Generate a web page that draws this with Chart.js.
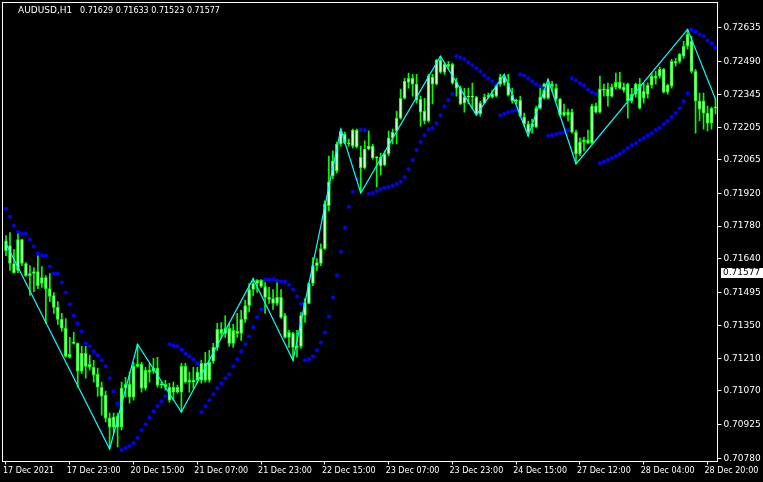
<!DOCTYPE html>
<html lang="en">
<head>
  <meta charset="UTF-8">
  <title>AUDUSD,H1</title>
  <style>
    html, body {
      margin: 0;
      padding: 0;
      background: #000;
    }
    #chart {
      display: block;
    }
  </style>
</head>
<body>

<canvas id="chart" width="763" height="482"></canvas>

<script src="https://cdn.jsdelivr.net/npm/chart.js"></script>

<script>
  // H1 bars, oldest first
  var opens = [
    0.71717, 0.71696, 0.71619, 0.71589, 0.71722, 0.71619, 0.71576, 0.71576, 0.71584, 0.71533,
    0.71558, 0.71511, 0.71481, 0.71430, 0.71378, 0.71340, 0.71215, 0.71275, 0.71275, 0.71155,
    0.71232, 0.71185, 0.71172, 0.71142, 0.71086, 0.71052, 0.70953, 0.70914, 0.70962, 0.70914,
    0.71082, 0.71099, 0.71043, 0.71176, 0.71185, 0.71082, 0.71159, 0.71155, 0.71168, 0.71095,
    0.71099, 0.71086, 0.71065, 0.71086, 0.71065, 0.71176, 0.71108, 0.71116, 0.71116, 0.71116,
    0.71189, 0.71116, 0.71198, 0.71258, 0.71335, 0.71318, 0.71340, 0.71275, 0.71327, 0.71318,
    0.71378, 0.71438, 0.71507, 0.71533, 0.71546, 0.71520, 0.71473, 0.71447, 0.71473, 0.71473,
    0.71395, 0.71301, 0.71318, 0.71258, 0.71262, 0.71395, 0.71447, 0.71533, 0.71610, 0.71619,
    0.71683, 0.71868, 0.71996, 0.72018, 0.72134, 0.72177, 0.72138, 0.72125, 0.72194, 0.72078,
    0.72031, 0.72112, 0.72125, 0.72074, 0.72078, 0.72044, 0.72091, 0.72160, 0.72190, 0.72245,
    0.72331, 0.72400, 0.72417, 0.72392, 0.72327, 0.72276, 0.72233, 0.72422, 0.72392, 0.72495,
    0.72443, 0.72477, 0.72477, 0.72400, 0.72374, 0.72310, 0.72336, 0.72340, 0.72336, 0.72263,
    0.72310, 0.72336, 0.72336, 0.72340, 0.72392, 0.72422, 0.72396, 0.72344, 0.72319, 0.72323,
    0.72250, 0.72220, 0.72207, 0.72207, 0.72288, 0.72331, 0.72392, 0.72383, 0.72374, 0.72327,
    0.72258, 0.72271, 0.72271, 0.72185, 0.72091, 0.72142, 0.72151, 0.72138, 0.72297, 0.72271,
    0.72370, 0.72370, 0.72340, 0.72379, 0.72400, 0.72379, 0.72319, 0.72349, 0.72349, 0.72392,
    0.72331, 0.72349, 0.72387, 0.72426, 0.72426, 0.72456, 0.72357, 0.72383, 0.72490, 0.72490,
    0.72512, 0.72555, 0.72576, 0.72447, 0.72319, 0.72319, 0.72267, 0.72224, 0.72288
  ];
  var highs = [
    0.71739, 0.71752, 0.71679, 0.71752, 0.71724, 0.71623, 0.71610, 0.71601, 0.71653, 0.71606,
    0.71567, 0.71576, 0.71494, 0.71455, 0.71404, 0.71382, 0.71301, 0.71322, 0.71277, 0.71262,
    0.71262, 0.71224, 0.71202, 0.71168, 0.71108, 0.71069, 0.70975, 0.70975, 0.70975, 0.71108,
    0.71129, 0.71151, 0.71193, 0.71271, 0.71193, 0.71172, 0.71189, 0.71211, 0.71215, 0.71108,
    0.71116, 0.71103, 0.71108, 0.71095, 0.71189, 0.71189, 0.71151, 0.71172, 0.71172, 0.71202,
    0.71236, 0.71245, 0.71275, 0.71361, 0.71365, 0.71395, 0.71361, 0.71357, 0.71404, 0.71417,
    0.71460, 0.71533, 0.71554, 0.71550, 0.71550, 0.71537, 0.71516, 0.71507, 0.71537, 0.71507,
    0.71404, 0.71331, 0.71322, 0.71331, 0.71408, 0.71468, 0.71537, 0.71644, 0.71640, 0.71704,
    0.71889, 0.72082, 0.72104, 0.72142, 0.72198, 0.72185, 0.72155, 0.72198, 0.72198, 0.72125,
    0.72147, 0.72190, 0.72134, 0.72080, 0.72095, 0.72104, 0.72190, 0.72198, 0.72276, 0.72370,
    0.72417, 0.72439, 0.72434, 0.72434, 0.72340, 0.72331, 0.72434, 0.72434, 0.72499, 0.72512,
    0.72486, 0.72490, 0.72482, 0.72417, 0.72383, 0.72374, 0.72374, 0.72396, 0.72340, 0.72319,
    0.72349, 0.72353, 0.72366, 0.72396, 0.72434, 0.72434, 0.72434, 0.72374, 0.72327, 0.72340,
    0.72267, 0.72233, 0.72241, 0.72297, 0.72374, 0.72396, 0.72413, 0.72404, 0.72392, 0.72331,
    0.72306, 0.72284, 0.72284, 0.72194, 0.72160, 0.72164, 0.72194, 0.72306, 0.72310, 0.72426,
    0.72392, 0.72396, 0.72392, 0.72439, 0.72443, 0.72396, 0.72396, 0.72374, 0.72396, 0.72417,
    0.72396, 0.72396, 0.72439, 0.72447, 0.72465, 0.72460, 0.72392, 0.72499, 0.72503, 0.72525,
    0.72576, 0.72628, 0.72598, 0.72456, 0.72353, 0.72353, 0.72297, 0.72293, 0.72327
  ];
  var lows = [
    0.71653, 0.71589, 0.71576, 0.71580, 0.71610, 0.71563, 0.71481, 0.71498, 0.71511, 0.71516,
    0.71361, 0.71455, 0.71404, 0.71357, 0.71327, 0.71215, 0.71211, 0.71271, 0.71086, 0.71146,
    0.71125, 0.71159, 0.71108, 0.71047, 0.70966, 0.70936, 0.70820, 0.70889, 0.70829, 0.70902,
    0.71043, 0.71017, 0.71030, 0.71172, 0.71065, 0.71073, 0.71108, 0.71146, 0.71086, 0.71082,
    0.71073, 0.71022, 0.71030, 0.71060, 0.70979, 0.71103, 0.71065, 0.71082, 0.71103, 0.71103,
    0.71108, 0.71108, 0.71189, 0.71245, 0.71297, 0.71301, 0.71262, 0.71258, 0.71301, 0.71288,
    0.71365, 0.71412, 0.71481, 0.71494, 0.71516, 0.71404, 0.71447, 0.71421, 0.71438, 0.71382,
    0.71297, 0.71258, 0.71202, 0.71215, 0.71254, 0.71365, 0.71445, 0.71524, 0.71589, 0.71610,
    0.71679, 0.71846, 0.71984, 0.72009, 0.72125, 0.72134, 0.72125, 0.72117, 0.72117, 0.71923,
    0.72026, 0.72108, 0.72069, 0.71949, 0.72001, 0.72039, 0.72082, 0.72134, 0.72134, 0.72241,
    0.72327, 0.72374, 0.72340, 0.72310, 0.72211, 0.72220, 0.72228, 0.72306, 0.72388, 0.72439,
    0.72434, 0.72460, 0.72392, 0.72340, 0.72303, 0.72271, 0.72306, 0.72288, 0.72258, 0.72254,
    0.72306, 0.72331, 0.72331, 0.72336, 0.72383, 0.72387, 0.72340, 0.72310, 0.72306, 0.72250,
    0.72211, 0.72168, 0.72181, 0.72203, 0.72284, 0.72327, 0.72327, 0.72361, 0.72319, 0.72254,
    0.72254, 0.72233, 0.72181, 0.72048, 0.72082, 0.72104, 0.72134, 0.72134, 0.72267, 0.72267,
    0.72340, 0.72297, 0.72336, 0.72370, 0.72370, 0.72357, 0.72245, 0.72310, 0.72336, 0.72284,
    0.72310, 0.72331, 0.72374, 0.72392, 0.72417, 0.72353, 0.72349, 0.72374, 0.72469, 0.72482,
    0.72503, 0.72542, 0.72439, 0.72181, 0.72233, 0.72198, 0.72190, 0.72198, 0.72263
  ];
  var closes = [
    0.71674, 0.71619, 0.71580, 0.71722, 0.71619, 0.71567, 0.71567, 0.71584, 0.71524, 0.71558,
    0.71511, 0.71477, 0.71430, 0.71378, 0.71340, 0.71219, 0.71228, 0.71279, 0.71155, 0.71232,
    0.71176, 0.71172, 0.71138, 0.71086, 0.71047, 0.70953, 0.70914, 0.70957, 0.70914, 0.71082,
    0.71099, 0.71043, 0.71176, 0.71185, 0.71082, 0.71159, 0.71151, 0.71168, 0.71095, 0.71099,
    0.71086, 0.71030, 0.71086, 0.71065, 0.71176, 0.71108, 0.71116, 0.71108, 0.71151, 0.71189,
    0.71116, 0.71193, 0.71258, 0.71335, 0.71318, 0.71340, 0.71275, 0.71331, 0.71318, 0.71378,
    0.71438, 0.71507, 0.71533, 0.71546, 0.71520, 0.71473, 0.71464, 0.71468, 0.71447, 0.71387,
    0.71301, 0.71322, 0.71258, 0.71262, 0.71395, 0.71451, 0.71533, 0.71610, 0.71623, 0.71683,
    0.71876, 0.71971, 0.72061, 0.72134, 0.72190, 0.72138, 0.72134, 0.72194, 0.72121, 0.72031,
    0.72112, 0.72125, 0.72074, 0.72078, 0.72039, 0.72091, 0.72160, 0.72185, 0.72245, 0.72331,
    0.72404, 0.72417, 0.72392, 0.72323, 0.72271, 0.72233, 0.72426, 0.72392, 0.72495, 0.72443,
    0.72477, 0.72469, 0.72396, 0.72374, 0.72306, 0.72336, 0.72340, 0.72336, 0.72263, 0.72310,
    0.72336, 0.72344, 0.72349, 0.72392, 0.72422, 0.72396, 0.72344, 0.72319, 0.72323, 0.72254,
    0.72220, 0.72185, 0.72220, 0.72288, 0.72336, 0.72392, 0.72331, 0.72392, 0.72327, 0.72258,
    0.72271, 0.72258, 0.72185, 0.72091, 0.72142, 0.72151, 0.72138, 0.72297, 0.72271, 0.72370,
    0.72366, 0.72340, 0.72379, 0.72400, 0.72374, 0.72366, 0.72392, 0.72319, 0.72392, 0.72288,
    0.72361, 0.72387, 0.72426, 0.72417, 0.72456, 0.72357, 0.72387, 0.72490, 0.72482, 0.72520,
    0.72555, 0.72606, 0.72447, 0.72319, 0.72284, 0.72267, 0.72224, 0.72288, 0.72293
  ];

  // Parabolic SAR, one dot per bar
  var sar = [
    0.71855, 0.71820, 0.71782, 0.71756, 0.71747, 0.71747, 0.71722, 0.71692, 0.71662, 0.71653,
    0.71653, 0.71606, 0.71576, 0.71576, 0.71537, 0.71494, 0.71443, 0.71395, 0.71361, 0.71327,
    0.71275, 0.71262, 0.71241, 0.71224, 0.71202, 0.71176, 0.71125, 0.71069, 0.71017, 0.70816,
    0.70824, 0.70833, 0.70846, 0.70867, 0.70902, 0.70927, 0.70957, 0.70983, 0.71005, 0.71026,
    0.71047, 0.71271, 0.71266, 0.71262, 0.71249, 0.71232, 0.71219, 0.71206, 0.71189, 0.70979,
    0.71005, 0.71030, 0.71056, 0.71082, 0.71103, 0.71125, 0.71142, 0.71176, 0.71206, 0.71241,
    0.71271, 0.71305, 0.71344, 0.71387, 0.71421, 0.71550, 0.71550, 0.71550, 0.71546, 0.71541,
    0.71541, 0.71528, 0.71507, 0.71477, 0.71447, 0.71202, 0.71206, 0.71219, 0.71245, 0.71279,
    0.71322, 0.71391, 0.71473, 0.71567, 0.71670, 0.71773, 0.71863, 0.71928, 0.71984, 0.72194,
    0.72194, 0.71919, 0.71923, 0.71932, 0.71941, 0.71945, 0.71949, 0.71954, 0.71962, 0.71971,
    0.71992, 0.72026, 0.72065, 0.72108, 0.72142, 0.72172, 0.72198, 0.72203, 0.72224, 0.72258,
    0.72297, 0.72323, 0.72349, 0.72512, 0.72507, 0.72499, 0.72486, 0.72473, 0.72460, 0.72447,
    0.72430, 0.72417, 0.72404, 0.72392, 0.72258, 0.72263, 0.72271, 0.72276, 0.72280, 0.72434,
    0.72430, 0.72417, 0.72404, 0.72392, 0.72383, 0.72374, 0.72168, 0.72172, 0.72177, 0.72181,
    0.72185, 0.72194, 0.72417, 0.72409, 0.72396, 0.72387, 0.72370, 0.72357, 0.72349, 0.72052,
    0.72057, 0.72065, 0.72074, 0.72082, 0.72091, 0.72104, 0.72117, 0.72130, 0.72138, 0.72151,
    0.72160, 0.72172, 0.72181, 0.72194, 0.72203, 0.72220, 0.72233, 0.72250, 0.72267, 0.72288,
    0.72319, 0.72353, 0.72628, 0.72619, 0.72606, 0.72598, 0.72580, 0.72568, 0.72550
  ];

  // ZigZag turning points (bar index, price)
  var zigzagBars = [0, 26, 33, 44, 62, 72, 84, 89, 109, 118, 125, 131, 136, 143, 171, 178];
  var zigzagPrices = [
    0.71705, 0.70820, 0.71271, 0.70979, 0.71554, 0.71202, 0.72198, 0.71923,
    0.72512, 0.72258, 0.72434, 0.72168, 0.72413, 0.72048, 0.72628, 0.72327
  ];

  // time axis labels, one every 16 bars
  var timeLabels = [
    '17 Dec 2021', '17 Dec 23:00', '20 Dec 15:00', '21 Dec 07:00', '21 Dec 23:00', '22 Dec 15:00',
    '23 Dec 07:00', '23 Dec 23:00', '24 Dec 15:00', '27 Dec 12:00', '28 Dec 04:00', '28 Dec 20:00'
  ];
  var timeLabelEvery = 16;

  var priceTicks = [
    0.72635, 0.72490, 0.72345, 0.72205, 0.72065, 0.71920, 0.71780,
    0.71640, 0.71495, 0.71350, 0.71210, 0.71070, 0.70925, 0.70780
  ];

  var symbolName = 'AUDUSD,H1';
  var quote = [0.71629, 0.71633, 0.71523, 0.71577];
  var lastPrice = 0.71577;

  var n = opens.length;
  var categories = [];
  for (var i = 0; i < n; i++) categories.push(i);

  var zigzag = new Array(n).fill(null);
  zigzagBars.forEach(function(b, k) { zigzag[b] = zigzagPrices[k]; });

  var wicks = lows.map(function(l, i) { return [l, highs[i]]; });
  var bodies = opens.map(function(o, i) { return [o, closes[i]]; });

  // black background, white frame, symbol line and last price box
  var terminalLook = {
    id: 'terminalLook',
    beforeDraw: function(chart) {
      var ctx = chart.ctx;
      ctx.save();
      ctx.fillStyle = '#000';
      ctx.fillRect(0, 0, chart.width, chart.height);
      ctx.restore();
    },
    afterDraw: function(chart) {
      var ctx = chart.ctx;
      var area = chart.chartArea;
      ctx.save();
      ctx.strokeStyle = '#fff';
      ctx.lineWidth = 1;
      ctx.strokeRect(2.5, 2.5, area.right - 2.5, area.bottom - 2.5);

      ctx.fillStyle = '#fff';
      ctx.textBaseline = 'middle';
      ctx.font = '9px "DejaVu Sans"';
      ctx.fillText(symbolName, 18, 11);
      ctx.font = '8px "DejaVu Sans"';
      ctx.fillText(quote.map(function(q) { return q.toFixed(5); }).join(' '), 80, 11);

      var y = Math.round(chart.scales.y.getPixelForValue(lastPrice));
      ctx.fillStyle = '#fff';
      ctx.fillRect(721, y - 5, 42, 10);
      ctx.fillStyle = '#000';
      ctx.font = '9px "DejaVu Sans"';
      ctx.fillText(lastPrice.toFixed(5), 723, y);
      ctx.restore();
    }
  };

  var ctx = document.getElementById('chart').getContext('2d');
  var chart = new Chart(ctx, {
    type: 'bar',
    data: {
      labels: categories,
      datasets: [
        {
          type: 'line',
          label: 'ZigZag',
          data: zigzag,
          spanGaps: true,
          borderColor: '#00ffff',
          borderWidth: 1.2,
          pointRadius: 0,
          order: 1
        },
        {
          type: 'line',
          label: 'SAR',
          data: sar,
          showLine: false,
          pointRadius: 2,
          pointBorderWidth: 0,
          pointBackgroundColor: '#0000ff',
          order: 2
        },
        {
          label: 'Body',
          data: bodies,
          barThickness: 3,
          minBarLength: 1,
          grouped: false,
          backgroundColor: '#c8ffc8',
          borderColor: '#00ff00',
          borderWidth: 1,
          borderSkipped: false,
          order: 3
        },
        {
          label: 'Wick',
          data: wicks,
          barThickness: 1,
          grouped: false,
          backgroundColor: '#00ff00',
          borderWidth: 0,
          order: 4
        }
      ]
    },
    options: {
      responsive: false,
      animation: false,
      devicePixelRatio: 1,
      layout: {
        padding: { left: 1.5, top: 2.5, right: 0, bottom: 0 }
      },
      plugins: {
        legend: { display: false },
        tooltip: { enabled: false }
      },
      scales: {
        x: {
          type: 'category',
          offset: true,
          afterFit: function(scale) {
            scale.height = 20.5;
            scale.paddingLeft = 0;
            scale.paddingRight = 0;
          },
          grid: {
            offset: false,
            drawOnChartArea: false,
            color: '#fff',
            tickLength: 3
          },
          border: { display: true, color: '#fff', width: 1 },
          ticks: {
            autoSkip: false,
            maxRotation: 0,
            align: 'start',
            labelOffset: -3,
            padding: 2,
            color: '#fff',
            font: { family: 'DejaVu Sans', size: 8 },
            callback: function(v, i) {
              return i % timeLabelEvery === 0 ? timeLabels[i / timeLabelEvery] : null;
            }
          }
        },
        y: {
          type: 'linear',
          position: 'right',
          min: 0.70766,
          max: 0.72737,
          afterBuildTicks: function(scale) {
            scale.ticks = priceTicks.map(function(v) { return { value: v }; });
          },
          afterFit: function(scale) {
            scale.width = 45.5;
            scale.paddingTop = 0;
            scale.paddingBottom = 0;
          },
          grid: {
            drawOnChartArea: false,
            color: '#fff',
            tickLength: 4
          },
          border: { display: true, color: '#fff', width: 1 },
          ticks: {
            autoSkip: false,
            padding: 2,
            color: '#fff',
            font: { family: 'DejaVu Sans', size: 9 },
            callback: function(v) { return v.toFixed(5); }
          }
        }
      }
    },
    plugins: [terminalLook]
  });
</script>

</body>
</html>
